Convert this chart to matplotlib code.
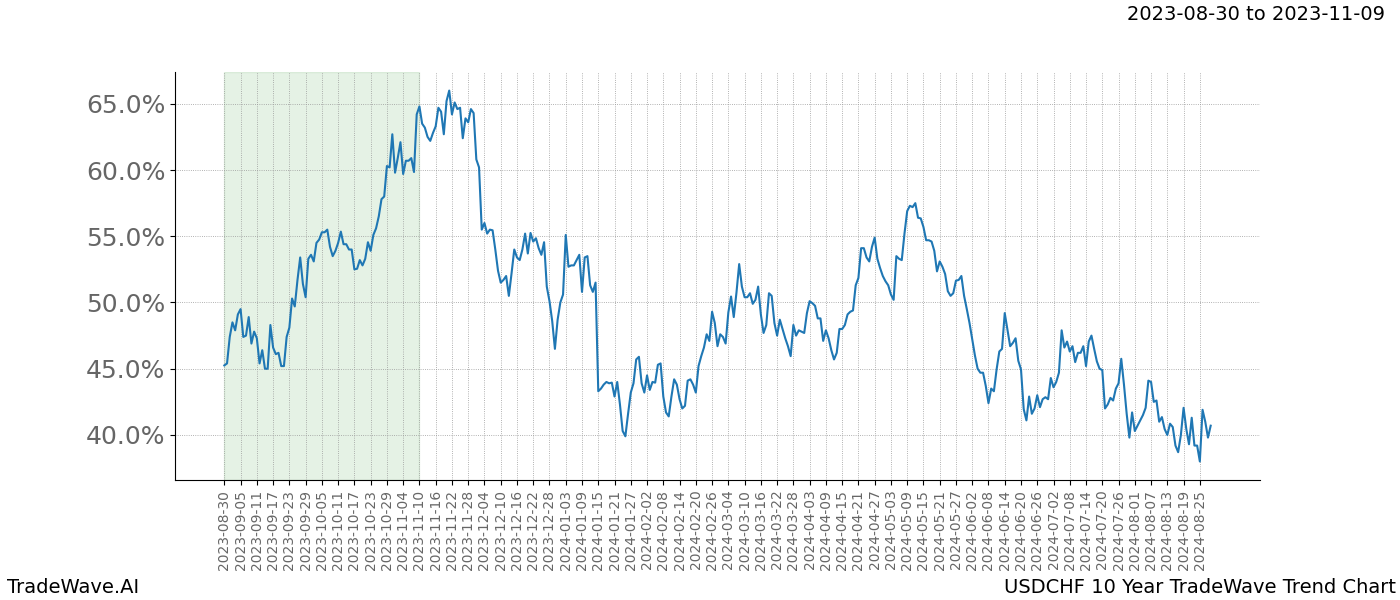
import matplotlib
matplotlib.use("Agg")
import matplotlib.pyplot as plt
from matplotlib.ticker import PercentFormatter, FixedLocator
import numpy as np

tick_labels = [
    "2023-08-30", "2023-09-05", "2023-09-11", "2023-09-17", "2023-09-23", "2023-09-29",
    "2023-10-05", "2023-10-11", "2023-10-17", "2023-10-23", "2023-10-29", "2023-11-04",
    "2023-11-10", "2023-11-16", "2023-11-22", "2023-11-28", "2023-12-04", "2023-12-10",
    "2023-12-16", "2023-12-22", "2023-12-28", "2024-01-03", "2024-01-09", "2024-01-15",
    "2024-01-21", "2024-01-27", "2024-02-02", "2024-02-08", "2024-02-14", "2024-02-20",
    "2024-02-26", "2024-03-04", "2024-03-10", "2024-03-16", "2024-03-22", "2024-03-28",
    "2024-04-03", "2024-04-09", "2024-04-15", "2024-04-21", "2024-04-27", "2024-05-03",
    "2024-05-09", "2024-05-15", "2024-05-21", "2024-05-27", "2024-06-02", "2024-06-08",
    "2024-06-14", "2024-06-20", "2024-06-26", "2024-07-02", "2024-07-08", "2024-07-14",
    "2024-07-20", "2024-07-26", "2024-08-01", "2024-08-07", "2024-08-13", "2024-08-19",
    "2024-08-25",
]

values_autumn = [
    45.25, 45.4, 47.4, 48.5, 47.9, 49.1, 49.5, 47.4, 47.5, 48.9,
    46.9, 47.8, 47.3, 45.4, 46.4, 45.0, 45.0, 48.3, 46.6, 46.1,
    46.2, 45.2, 45.2, 47.4, 48.1, 50.3, 49.7, 51.7, 53.4, 51.4,
    50.4, 53.3, 53.6, 53.1, 54.5, 54.75, 55.3, 55.3, 55.5, 54.2,
    53.5, 53.9, 54.5, 55.35, 54.4, 54.4, 54.0, 54.0, 52.5, 52.55,
    53.2, 52.8, 53.3, 54.55, 53.9, 55.1, 55.6, 56.5, 57.8, 58.0,
    60.3, 60.2, 62.7, 59.8, 60.9, 62.1, 59.7, 60.7, 60.7, 60.9,
    59.85,
]
values_winter = [
    64.2, 64.8, 63.5, 63.2, 62.5, 62.2, 62.8, 63.3, 64.7, 64.4,
    62.7, 65.2, 66.0, 64.2, 65.1, 64.6, 64.7, 62.4, 63.9, 63.6,
    64.6, 64.3, 60.8, 60.2, 55.5, 56.0, 55.2, 55.5, 55.45, 54.0,
    52.4, 51.5, 51.7, 52.0, 50.5, 52.2, 54.0, 53.4, 53.2, 54.0,
    55.2, 53.7, 55.25, 54.6, 54.85, 54.1, 53.6, 54.55, 51.2, 50.1,
    48.6, 46.5, 48.7, 50.0, 50.6, 55.1, 52.7, 52.8, 52.8, 53.2,
    53.6, 50.8, 53.4, 53.5, 51.3, 50.8, 51.5, 43.3, 43.5, 43.8,
    44.0, 43.9, 43.95, 42.9, 44.0, 42.3, 40.3, 39.9, 41.6, 43.2,
    43.9, 45.7, 45.9, 43.9, 43.2, 44.5, 43.4,
]
values_spring = [
    44.0, 43.95, 45.3, 45.4, 42.9, 41.7, 41.4, 42.9, 44.2, 43.8,
    42.7, 42.0, 42.2, 44.1, 44.2, 43.8, 43.2, 45.2, 45.95, 46.6,
    47.6, 47.1, 49.3, 48.45, 46.7, 47.6, 47.4, 46.9, 49.25, 50.45,
    48.9, 50.75, 52.9, 51.2, 50.4, 50.4, 50.7, 49.9, 50.2, 51.2,
    49.1, 47.7, 48.3, 50.7, 50.5, 48.45, 47.5, 48.7, 48.0, 47.3,
    46.7, 45.95, 48.3, 47.5, 47.9, 47.8, 47.7, 49.2, 50.1, 49.95,
    49.75, 48.8, 48.8, 47.1, 47.9, 47.3, 46.4, 45.7, 46.2, 48.0,
    48.0, 48.3, 49.1, 49.3, 49.4, 51.3, 51.85, 54.1, 54.1, 53.4,
    53.1,
]
values_early_summer = [
    54.2, 54.9, 53.3, 52.6, 52.0, 51.6, 51.3, 50.6, 50.2, 53.5,
    53.3, 53.2, 55.2, 56.9, 57.3, 57.2, 57.5, 56.4, 56.35, 55.7,
    54.7, 54.7, 54.6, 53.9, 52.35, 53.1, 52.7, 52.15, 50.85, 50.5,
    50.7, 51.65, 51.7, 52.0, 50.5, 49.5, 48.45, 47.2, 46.0, 45.0,
    44.7, 44.7, 43.7, 42.4, 43.5, 43.3, 44.95, 46.3, 46.5,
    49.2, 47.95, 46.7, 46.95, 47.3, 45.6, 44.95, 41.95, 41.1, 42.9,
    41.6, 42.0, 43.0, 42.1, 42.7, 42.85, 42.7, 44.3,
]
values_late_summer = [
    43.6, 44.0, 44.7, 47.9, 46.6, 47.05, 46.3, 46.7, 45.5, 46.2,
    46.2, 46.7, 45.2, 47.05, 47.5, 46.5, 45.55, 45.0, 44.9, 42.0,
    42.3, 42.8, 42.6, 43.5, 43.9, 45.75, 43.8, 41.6, 39.8, 41.7,
    40.3, 40.7, 41.1, 41.5, 42.05, 44.1, 44.0, 42.5, 42.6, 41.0,
    41.35, 40.45, 40.0, 40.85, 40.6, 39.2, 38.7, 40.0, 42.05, 40.45,
    39.3, 41.3, 39.2, 39.2, 38.0, 41.9, 41.0, 39.8, 40.7,
]

values = (values_autumn + values_winter + values_spring
          + values_early_summer + values_late_summer)
day_index = np.arange(len(values))
highlight_start, highlight_end = 0, 72
tick_step = 6

fig = plt.figure(figsize=(14, 6), dpi=100)
ax = fig.add_axes([0.125, 0.2, 0.775, 0.68])

ax.axvspan(highlight_start, highlight_end, color="green", alpha=0.1)
ax.plot(day_index, values, color="#1f77b4", linewidth=1.5)

ax.xaxis.set_major_locator(FixedLocator(np.arange(0, tick_step * len(tick_labels), tick_step)))
ax.set_xticklabels(tick_labels, rotation=90, fontsize=10, color="#666666")
ax.yaxis.set_major_formatter(PercentFormatter(100, decimals=1))
ax.tick_params(axis="y", labelsize=18, labelcolor="#666666")
ax.set_yticks([40, 45, 50, 55, 60, 65])
ax.grid(True, linestyle=":", linewidth=0.6, color="#999999")
ax.spines["top"].set_visible(False)
ax.spines["right"].set_visible(False)

fig.text(0.989, 0.9925, "2023-08-30 to 2023-11-09", ha="right", va="top", fontsize=14)
fig.text(0.005, 7 / 600, "TradeWave.AI", ha="left", va="baseline", fontsize=14)
fig.text(0.997, 7 / 600, "USDCHF 10 Year TradeWave Trend Chart", ha="right", va="baseline", fontsize=14)

fig.savefig("out.png", dpi=100)
